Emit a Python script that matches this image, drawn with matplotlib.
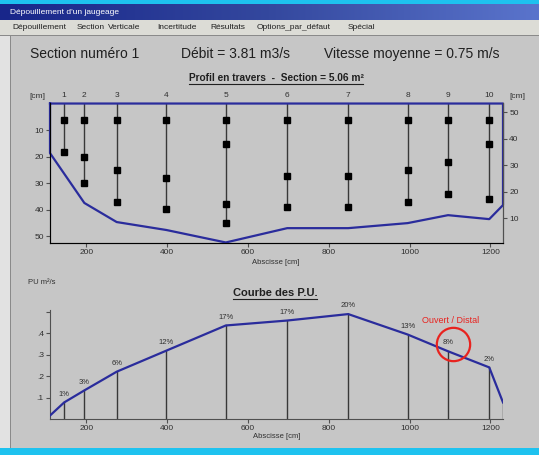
import numpy as np
import matplotlib
matplotlib.use('Agg')
import matplotlib.pyplot as plt
from matplotlib import font_manager
from matplotlib.patches import Rectangle
from matplotlib.lines import Line2D
import matplotlib.transforms as mtransforms

# gauging data
vert_num = ['1', '2', '3', '4', '5', '6', '7', '8', '9', '10']
vert_x = [145, 195, 275, 398, 545, 697, 848, 995, 1095, 1197]        # abscissa [cm]
vert_pts = [[6.2, 18.3],
            [6.2, 20.2, 30.0],
            [6.2, 25.1, 37.2],
            [6.2, 28.1, 39.8],
            [6.2, 15.3, 37.9, 45.1],
            [6.2, 27.4, 39.0],
            [6.2, 27.4, 39.0],
            [6.2, 25.1, 37.2],
            [6.2, 22.1, 34.2],
            [6.2, 15.3, 36.0]]                                       # depth of measure points [cm]
bank_left = 110
bank_right = 1231
bed_x = [110, 195, 275, 398, 545, 697, 848, 995, 1095, 1197, 1231]
bed_depth = [18.7, 37.5, 44.7, 47.7, 52.4, 47.0, 47.0, 45.1, 42.1, 43.6, 38.3]
pu_x = [110, 145, 195, 275, 398, 545, 697, 848, 995, 1095, 1197, 1231]
pu = [0.016, 0.077, 0.133, 0.22, 0.318, 0.435, 0.458, 0.488, 0.393, 0.315, 0.24, 0.077]
pct = ['1%', '3%', '6%', '12%', '17%', '17%', '20%', '13%', '8%', '2%']
x_ticks = [200, 400, 600, 800, 1000, 1200]
depth_ticks = [10, 20, 30, 40, 50]
height_ticks = [10, 20, 30, 40, 50]
pu_ticks = [0.1, 0.2, 0.3, 0.4, 0.5]
pu_tick_labels = ['.1', '.2', '.3', '.4', '']
menu_items = ['Dépouillement', 'Section', 'Verticale', 'Incertitude', 'Résultats',
              'Options_par_défaut', 'Spécial']
menu_pos = [12, 77, 108, 157, 210, 257, 348]

W, H = 539, 455
names = {f.name for f in font_manager.fontManager.ttflist}
narrow = 'Liberation Sans Narrow' if 'Liberation Sans Narrow' in names else 'Liberation Sans'
plt.rcParams['font.family'] = ['Liberation Sans', 'DejaVu Sans']

fig = plt.figure(figsize=(W/100, H/100), dpi=100)

def fx(x):
    return x / W

def fy(y):
    return 1 - y / H

def box(x0, y0, x1, y1, color, z=0):
    fig.patches.append(Rectangle((fx(x0), fy(y1)), (x1-x0)/W, (y1-y0)/H,
                                 transform=fig.transFigure, color=color, zorder=z, lw=0))

# window chrome
box(0, 0, W, H, '#c6c6c6', -5)
box(0, 0, W, 4, '#1ec2ef', -4)
grad = np.linspace(0, 1, 256).reshape(1, -1)
tb = fig.add_axes([0, fy(20), 1, 16/H], zorder=-3)
tb.imshow(grad, aspect='auto', cmap=matplotlib.colors.LinearSegmentedColormap.from_list(
    'tb', ['#18268a', '#34489e', '#5a74cc']), extent=[0, 1, 0, 1])
tb.set_axis_off()
box(0, 20, W, 35, '#dcdcd6', -4)
box(0, 35, W, 36, '#8a8a8a', -4)
box(0, 36, 10, 448, '#e2e2e2', -4)
box(10, 36, 11, 448, '#8a8a8a', -4)
box(0, 448, W, H, '#1ec2ef', -4)

fig.text(fx(10), fy(12), "Dépouillement d'un jaugeage", color='white', fontsize=6,
         va='center', ha='left')
for name, xp in zip(menu_items, menu_pos):
    fig.text(fx(xp), fy(27.5), name, fontsize=6, va='center', ha='left', color='#202020',
             family=narrow)

fig.text(fx(30), fy(54), 'Section numéro 1', fontsize=10, va='center', color='#202020')
fig.text(fx(181), fy(54), 'Débit = 3.81 m3/s', fontsize=10, va='center', color='#202020')
fig.text(fx(324), fy(54), 'Vitesse moyenne = 0.75 m/s', fontsize=10, va='center', color='#202020')

t1 = fig.text(fx(276), fy(78), 'Profil en travers  -  Section = 5.06 m²', fontsize=7.3,
              ha='center', va='center', color='#202020', fontweight='bold')
t2 = fig.text(fx(275), fy(293), 'Courbe des P.U.', fontsize=8, ha='center', va='center',
              color='#202020', fontweight='bold')

blue = '#2a2c9c'
grey = '#383838'
xlim = (bank_left, bank_right)

# ---- cross section ----
ax1 = fig.add_axes([fx(50), fy(243), 453/W, 140/H])
ax1.patch.set_alpha(0)
ax1.set_xlim(xlim)
ax1.set_ylim(52.6, -0.2)
for x, pts in zip(vert_x, vert_pts):
    ax1.plot([x, x], [0, max(pts)], color=grey, lw=1)
    ax1.plot([x]*len(pts), pts, 's', color='black', ms=4.8)
sx = [bank_left] + bed_x + [bank_right, bank_left]
sy = [0] + bed_depth + [0, 0]
ax1.plot(sx, sy, color=blue, lw=1.6, clip_on=False, zorder=5)
ax1.set_xticks(x_ticks)
ax1.set_yticks(depth_ticks)
ax1.spines['top'].set_visible(False)
for s in ['left', 'bottom', 'right']:
    ax1.spines[s].set_color('#505050')
ax1.tick_params(length=3, width=0.8, color='#505050', labelsize=6, pad=1.5,
                labelcolor='#303030')
for lab in ax1.get_xticklabels() + ax1.get_yticklabels():
    lab.set_family(narrow)
ax1b = ax1.twinx()
ax1b.set_ylim(53.2 - 52.6, 53.2 + 0.2)
ax1b.set_yticks(height_ticks)
ax1b.spines['top'].set_visible(False)
ax1b.spines['right'].set_color('#505050')
ax1b.tick_params(length=3, width=0.8, color='#505050', labelsize=6, pad=1.5,
                 labelcolor='#303030')
for lab in ax1b.get_yticklabels():
    lab.set_family(narrow)
for x, n in zip(vert_x, vert_num):
    ax1.annotate(n, (x, 0), xytext=(0, 5.5), textcoords='offset points', ha='center',
                 va='center', fontsize=6, color='#303030', family=narrow, annotation_clip=False)
fig.text(fx(37), fy(96), '[cm]', fontsize=6, ha='center', va='center', color='#303030', family=narrow)
fig.text(fx(517), fy(97), '[cm]', fontsize=6, ha='center', va='center', color='#303030', family=narrow)
fig.text(fx(276), fy(263), 'Abscisse [cm]', fontsize=5.5, ha='center', va='center',
         color='#303030', family=narrow)

# ---- unit discharge curve ----
ax2 = fig.add_axes([fx(50), fy(419), 453/W, 109/H])
ax2.patch.set_alpha(0)
ax2.set_xlim(xlim)
ax2.set_ylim(0, 0.507)
for x, v in zip(pu_x[1:], pu[1:]):
    ax2.plot([x, x], [0, v], color=grey, lw=1)
ax2.plot(pu_x, pu, color=blue, lw=1.6, zorder=5)
for x, v, p in zip(pu_x[1:-1], pu[1:-1], pct):
    ax2.annotate(p, (x, v), xytext=(0, 6), textcoords='offset points', ha='center',
                 va='center', fontsize=5.5, color='#303030', family=narrow)
# highlighted vertical
hx, hy = pu_x[9], pu[9]
ax2.plot(hx, hy, 'o', ms=24, mfc='none', mec='#e8231f', mew=1.6,
         transform=mtransforms.offset_copy(ax2.transData, fig=fig, x=3.5, y=5, units='points'),
         clip_on=False, zorder=6)
ax2.annotate('Ouvert / Distal', (hx, hy), xytext=(1.5, 22.5), textcoords='offset points',
             ha='center', va='center', fontsize=6.5, color='#e8231f')
ax2.set_xticks(x_ticks)
ax2.set_yticks(pu_ticks)
ax2.set_yticklabels(pu_tick_labels)
for s in ['top', 'right']:
    ax2.spines[s].set_visible(False)
for s in ['left', 'bottom']:
    ax2.spines[s].set_color('#505050')
ax2.tick_params(length=3, width=0.8, color='#505050', labelsize=6, pad=1.5,
                labelcolor='#303030')
for lab in ax2.get_xticklabels() + ax2.get_yticklabels():
    lab.set_family(narrow)
fig.text(fx(28), fy(283), 'PU m²/s', fontsize=5.5, ha='left', va='center', color='#303030', family=narrow)
fig.text(fx(277), fy(436), 'Abscisse [cm]', fontsize=5.5, ha='center', va='center',
         color='#303030', family=narrow)

# underline the two titles
fig.canvas.draw()
for t in (t1, t2):
    bb = t.get_window_extent()
    yl = (bb.y0 - 0.5) / fig.bbox.height
    fig.add_artist(Line2D([bb.x0 / fig.bbox.width, bb.x1 / fig.bbox.width], [yl, yl],
                          transform=fig.transFigure, color='#202020', lw=0.8))

fig.savefig('out.png', dpi=100)
